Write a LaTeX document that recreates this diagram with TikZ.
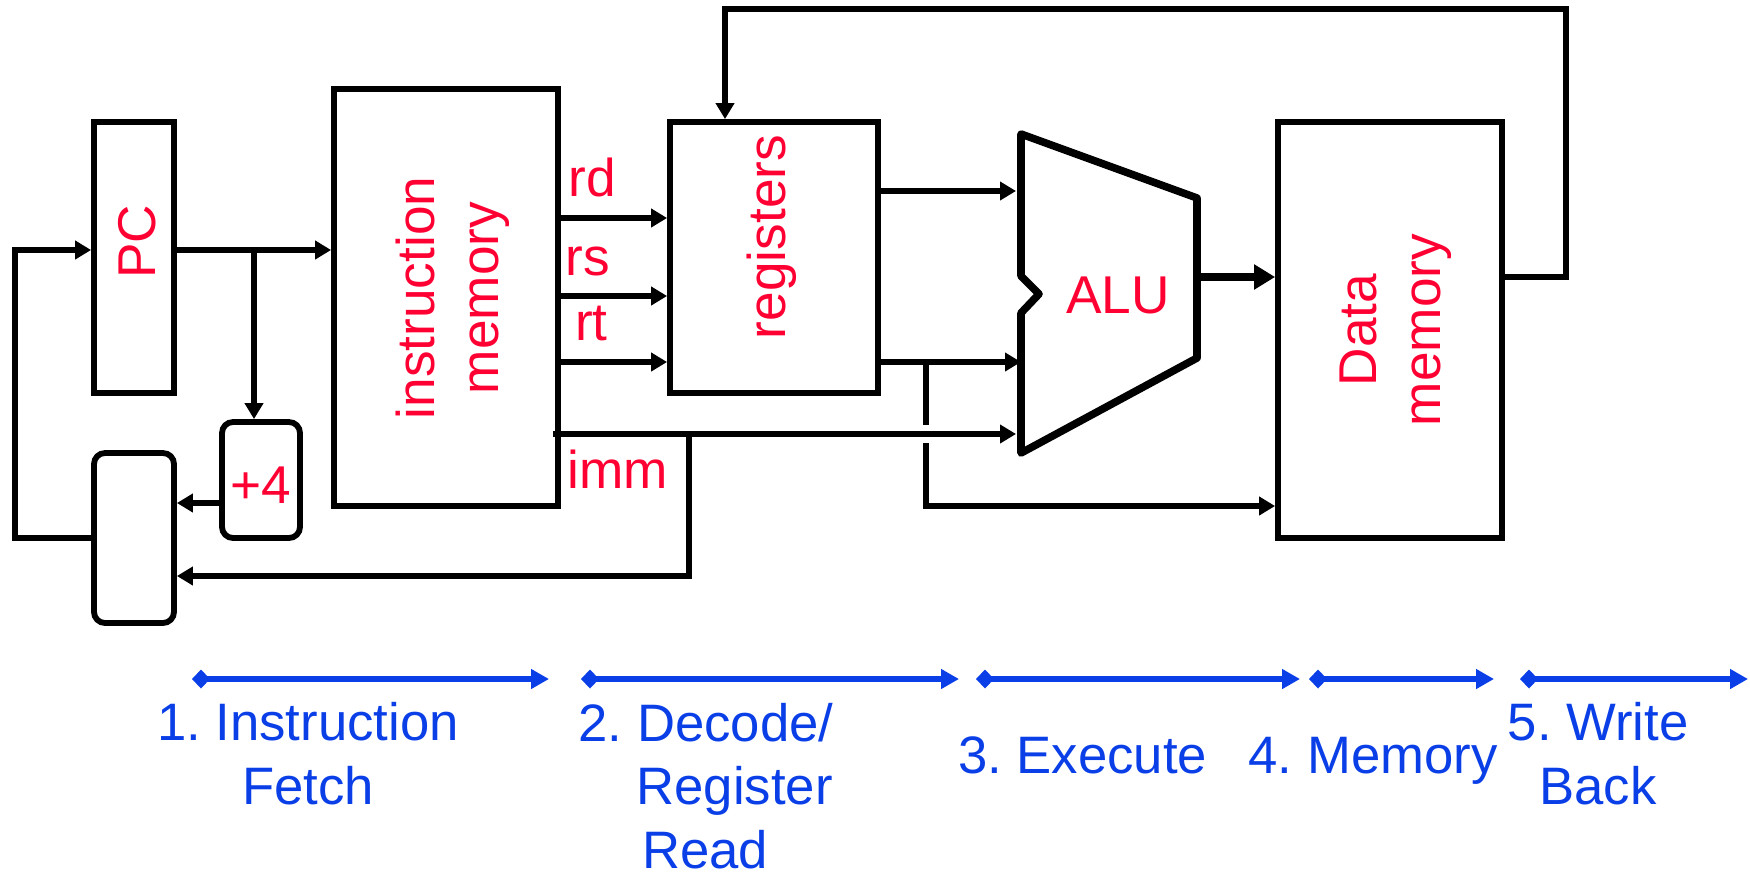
\documentclass[tikz,border=0pt]{standalone}
\usepackage{fontspec}
\setmainfont{Liberation Sans}
\frenchspacing
\usetikzlibrary{arrows.meta,calc}
\definecolor{lblred}{HTML}{FF0033}
\definecolor{lblblue}{HTML}{0A3FE8}
\tikzset{
  box/.style={draw=black,line width=5.8pt,inner sep=0pt},
  rbox/.style={box,rounded corners=11pt},
  wire/.style={draw=black,line width=5.4pt},
  awire/.style={wire,-{Triangle[length=16pt,width=18pt]}},
  bwire/.style={draw=black,line width=7.5pt,-{Triangle[length=21pt,width=24pt]}},
  alushape/.style={draw=black,line width=7.6pt,line join=round},
  red/.style={text=lblred,font=\fontsize{53.2}{64}\selectfont,inner sep=0pt,align=center},
  stage/.style={text=lblblue,font=\fontsize{52.7}{64}\selectfont,inner sep=0pt,align=center},
  span/.style={draw=lblblue,line width=5.4pt,{Diamond[length=18pt,width=19pt]}-{Triangle[length=18pt,width=19pt]}}
}
\begin{document}
\begin{tikzpicture}[x=1pt,y=-1pt]
\useasboundingbox (0,0) rectangle (1750,873);
% boxes
\node[box,minimum width=80pt,minimum height=271pt] (pc) at (134,257.5) {};
\node[box,minimum width=224pt,minimum height=417pt] (im) at (446,297.5) {};
\node[box,minimum width=208pt,minimum height=271pt] (rg) at (774,257.5) {};
\node[box,minimum width=224pt,minimum height=416pt] (dm) at (1390,330) {};
\node[rbox,minimum width=80pt,minimum height=170pt] (mux) at (134,538) {};
\node[rbox,minimum width=78pt,minimum height=116pt] (inc) at (261,480) {};
% ALU
\coordinate (a1) at (1021,134);
\coordinate (a2) at (1197,198);
\coordinate (a3) at (1197,358);
\coordinate (a4) at (1021,453);
\coordinate (a5) at (1021,313);
\coordinate (a6) at (1039,294);
\coordinate (a7) at (1021,276);
\draw[alushape] (a1) -- (a2) -- (a3) -- (a4) -- (a5) -- (a6) -- (a7) -- cycle;
% levels
\coordinate (yfb) at (0,277);
\coordinate (ypc) at (0,250);
\coordinate (yinc) at (0,503);
\coordinate (yb) at (0,576);
\coordinate (yback) at (0,538);
\coordinate (yrd) at (0,218);
\coordinate (yrs) at (0,296);
\coordinate (yrt) at (0,362);
\coordinate (yimm) at (0,434);
\coordinate (yra) at (0,191);
\coordinate (ydm) at (0,506);
% wires
\coordinate (fbr) at (1566,9);
\coordinate (fbl) at (725,9);
\draw[awire] (dm.east |- yfb) -| (fbr) -- (fbl) -- (fbl |- rg.north);
\coordinate (lft) at (15,0);
\draw[awire] (mux.west |- yback) -- (lft |- yback) -- (lft |- ypc) -- (pc.west |- ypc);
\draw[awire] (pc.east |- ypc) -- (im.west |- ypc);
\coordinate (tap) at (254,250);
\draw[awire] (tap) -- (tap |- inc.north);
\draw[awire] (inc.west |- yinc) -- (mux.east |- yinc);
\coordinate (immS) at (553,434);
\coordinate (immE) at (1016,434);
\draw[awire] (immS) -- (immE);
\coordinate (immT) at (689,434);
\draw[awire] (immT) -- (immT |- yb) -- (mux.east |- yb);
\draw[awire] (im.east |- yrd) -- (rg.west |- yrd);
\draw[awire] (im.east |- yrs) -- (rg.west |- yrs);
\draw[awire] (im.east |- yrt) -- (rg.west |- yrt);
\coordinate (e1) at (1016,191);
\coordinate (e2) at (1021,362);
\draw[awire] (rg.east |- yra) -- (e1);
\draw[awire] (rg.east |- yrt) -- (e2);
\coordinate (v1) at (926,362);
\coordinate (v2) at (926,425);
\coordinate (v3) at (926,443);
\draw[wire] (v1) -- (v2);
\draw[awire] (v3) -- (v3 |- ydm) -- (dm.west |- ydm);
\coordinate (aluout) at (1200,277);
\draw[bwire] (aluout) -- (dm.west |- yfb);
% red labels
\node[red,rotate=90] (tpc) at (137,242) {PC};
\node[red,rotate=90] (tim) at (453,298) {instruction\\memory};
\node[red,rotate=90] (trg) at (772,237) {registers};
\node[red,rotate=90] (tdm) at (1396,330) {Data\\memory};
\node[red] (tinc) at (261,485) {+4};
\node[red,anchor=base] (talu) at (1118,313) {ALU};
\node[red,anchor=base] (trd) at (592,196) {rd};
\node[red,anchor=base] (trs) at (588,275) {rs};
\node[red,anchor=base] (trt) at (591.5,340) {rt};
\node[red,anchor=base] (timm) at (618,488) {imm};
% stage spans
\coordinate (s1a) at (192,679); \coordinate (s1b) at (549,679);
\coordinate (s2a) at (581,679); \coordinate (s2b) at (959,679);
\coordinate (s3a) at (976,679); \coordinate (s3b) at (1300,679);
\coordinate (s4a) at (1309,679); \coordinate (s4b) at (1494,679);
\coordinate (s5a) at (1520,679); \coordinate (s5b) at (1748,679);
\draw[span] (s1a) -- (s1b);
\draw[span] (s2a) -- (s2b);
\draw[span] (s3a) -- (s3b);
\draw[span] (s4a) -- (s4b);
\draw[span] (s5a) -- (s5b);
\node[stage] (l1) at (308,754) {1. Instruction\\Fetch};
\node[stage,anchor=base] (l2a) at (706,741) {2. Decode/};
\node[stage,anchor=base] (l2b) at (734.5,804) {Register};
\node[stage,anchor=base] (l2c) at (705,868) {Read};
\node[stage,anchor=base] (l3) at (1082.5,773) {3. Execute};
\node[stage,anchor=base] (l4) at (1373,773) {4. Memory};
\node[stage] (l5) at (1598,754) {5. Write\\Back};
\end{tikzpicture}
\end{document}
